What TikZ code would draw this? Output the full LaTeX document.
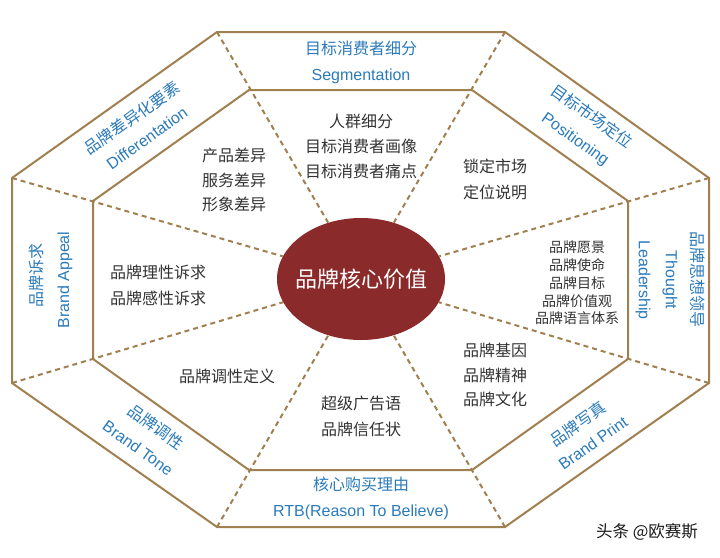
\documentclass[tikz,border=0pt]{standalone}
\usepackage{fontspec}
\setmainfont{Liberation Sans}
\newfontfamily\cjk{Noto Sans CJK SC}
\usetikzlibrary{shapes.geometric}
\definecolor{gold}{HTML}{A08050}
\definecolor{bandblue}{HTML}{2B7BBA}
\definecolor{coreRed}{HTML}{8B2A2A}
\definecolor{txt}{HTML}{333333}
\begin{document}
\begin{tikzpicture}[x=1pt,y=-1pt,
  edge/.style={draw=gold, line width=2pt, line join=miter},
  sep/.style={draw=gold, line width=2pt, dash pattern=on 5pt off 4pt},
  bandzh/.style={text=bandblue, font=\cjk\fontsize{16}{16}\selectfont, inner sep=0pt},
  banden/.style={text=bandblue, font=\fontsize{16}{16}\selectfont, inner sep=0pt},
  sector/.style={text=txt, font=\cjk\fontsize{16}{25}\selectfont, inner sep=0pt},
  smallsector/.style={text=txt, font=\cjk\fontsize{14}{17.8}\selectfont, inner sep=0pt, align=center},
]
\useasboundingbox[fill=white] (0,0) rectangle (720,557);
% outer octagon
\coordinate (O1) at (217,32);  \coordinate (O2) at (505,32);
\coordinate (O3) at (709,178); \coordinate (O4) at (709,383);
\coordinate (O5) at (505,527); \coordinate (O6) at (217,527);
\coordinate (O7) at (12,383);  \coordinate (O8) at (12,178);
% inner octagon
\coordinate (I1) at (249,90);  \coordinate (I2) at (472,90);
\coordinate (I3) at (628,201); \coordinate (I4) at (628,359);
\coordinate (I5) at (472,470); \coordinate (I6) at (249,470);
\coordinate (I7) at (93,359);  \coordinate (I8) at (93,201);

\node[ellipse, fill=coreRed, minimum width=168pt, minimum height=122pt, inner sep=0pt] (core) at (361,279) {};
\node[text=white, font=\cjk\fontsize{22}{22}\selectfont, inner sep=0pt] (coretext) at (core.center) {品牌核心价值};

\foreach \k in {1,...,8} { \draw[sep] (O\k) -- (core); }

\draw[edge] (O1) -- (O2) -- (O3) -- (O4) -- (O5) -- (O6) -- (O7) -- (O8) -- cycle;
\draw[edge] (I1) -- (I2) -- (I3) -- (I4) -- (I5) -- (I6) -- (I7) -- (I8) -- cycle;

% band labels
\node[bandzh] (b1a) at (361,48) {目标消费者细分};
\node[banden] (b1b) at (361,76) {Segmentation};
\node[bandzh, rotate=-35.5] (b2a) at (592,116) {目标市场定位};
\node[banden, rotate=-35.5] (b2b) at (575,140) {Positioning};
\node[bandzh, rotate=-90] (b3a) at (698,279) {品牌思想领导};
\node[banden, rotate=-90] (b3b) at (670,280) {Thought};
\node[banden, rotate=-90] (b3c) at (643,280) {Leadership};
\node[bandzh, rotate=35.5] (b4a) at (578,424) {品牌写真};
\node[banden, rotate=35.5] (b4b) at (593,443) {Brand Print};
\node[bandzh] (b5a) at (361,484) {核心购买理由};
\node[banden] (b5b) at (361,512) {RTB(Reason To Believe)};
\node[bandzh, rotate=-35.5] (b6a) at (156,427) {品牌调性};
\node[banden, rotate=-35.5] (b6b) at (138,448) {Brand Tone};
\node[bandzh, rotate=90] (b7a) at (36,275) {品牌诉求};
\node[banden, rotate=90] (b7b) at (65,280) {Brand Appeal};
\node[bandzh, rotate=35.5] (b8a) at (132,118) {品牌差异化要素};
\node[banden, rotate=35.5] (b8b) at (147,138) {Differentation};

% sector texts
\node[sector, align=center] (s1) at (361,146) {人群细分\\目标消费者画像\\目标消费者痛点};
\node[sector, align=left, anchor=west, font=\cjk\fontsize{16}{26}\selectfont] (s2) at (463,179) {锁定市场\\定位说明};
\node[smallsector] (s3) at (577,283) {品牌愿景\\品牌使命\\品牌目标\\品牌价值观\\品牌语言体系};
\node[sector, align=left, anchor=west, font=\cjk\fontsize{16}{24.5}\selectfont] (s4) at (463,375) {品牌基因\\品牌精神\\品牌文化};
\node[sector, align=center, font=\cjk\fontsize{16}{26}\selectfont] (s5) at (361,416) {超级广告语\\品牌信任状};
\node[sector] (s6) at (227,376) {品牌调性定义};
\node[sector, align=center, font=\cjk\fontsize{16}{26}\selectfont] (s7) at (158,285) {品牌理性诉求\\品牌感性诉求};
\node[sector, align=center, font=\cjk\fontsize{16}{24.5}\selectfont] (s8) at (234,180) {产品差异\\服务差异\\形象差异};

\node[text=black!90, font=\cjk\fontsize{16.5}{16.5}\selectfont, inner sep=0pt] (wm) at (647,532) {头条 @欧赛斯};
\end{tikzpicture}
\end{document}
